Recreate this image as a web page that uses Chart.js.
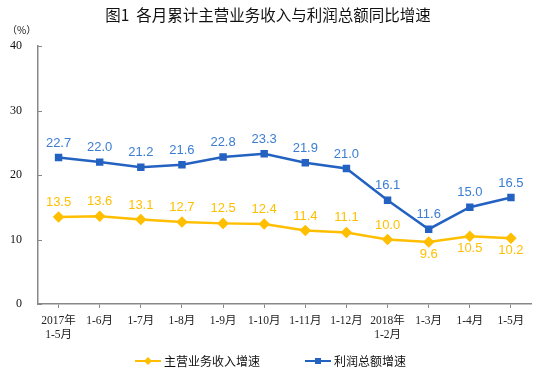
<!DOCTYPE html>
<html>
<head>
<meta charset="utf-8">
<script src="https://cdn.jsdelivr.net/npm/chart.js@4"></script>
<style>
  body { margin: 0; background: #fff; }
  #wrap { width: 538px; height: 380px; }
</style>
</head>
<body>
<div id="wrap"><canvas id="myChart" width="538" height="380"></canvas></div>
<script>
// Chart data
const categories = [
    ['2017年', '1-5月'], '1-6月', '1-7月', '1-8月', '1-9月', '1-10月',
    '1-11月', '1-12月', ['2018年', '1-2月'], '1-3月', '1-4月', '1-5月'
];
const revenueGrowth = [13.5, 13.6, 13.1, 12.7, 12.5, 12.4, 11.4, 11.1, 10.0, 9.6, 10.5, 10.2];
const profitGrowth = [22.7, 22.0, 21.2, 21.6, 22.8, 23.3, 21.9, 21.0, 16.1, 11.6, 15.0, 16.5];
const yTicks = [0, 10, 20, 30, 40];
const seriesNames = ['主营业务收入增速', '利润总额增速'];
const titleText = '图1  各月累计主营业务收入与利润总额同比增速';

const yellow = '#ffbf00';
const blue = '#2462c2';
const blueText = '#3b7dd3';

const cjk = '"Liberation Serif", "Noto Sans CJK SC", serif';

// Draws value labels, title, unit, inner y ticks and the legend
const decorPlugin = {
    id: 'decor',
    afterDatasetsDraw(chart) {
        const ctx = chart.ctx;
        ctx.save();
        ctx.font = '13px "Liberation Sans", Arial, sans-serif';
        ctx.textAlign = 'center';
        chart.data.datasets.forEach((ds, i) => {
            const meta = chart.getDatasetMeta(i);
            meta.data.forEach((pt, j) => {
                const v = ds.data[j];
                let below = (i === 0 && j >= 9);
                ctx.fillStyle = i === 0 ? yellow : blueText;
                ctx.textBaseline = below ? 'top' : 'bottom';
                ctx.fillText(v.toFixed(1), pt.x, below ? pt.y + 6 : pt.y - 8);
            });
        });

        // y tick marks pointing inward
        const y = chart.scales.y;
        ctx.strokeStyle = '#888';
        ctx.lineWidth = 1;
        yTicks.forEach(t => {
            const py = Math.round(y.getPixelForValue(t)) + 0.5;
            ctx.beginPath();
            ctx.moveTo(chart.chartArea.left, py);
            ctx.lineTo(chart.chartArea.left + 4, py);
            ctx.stroke();
        });

        // title and unit
        ctx.fillStyle = '#111';
        ctx.textBaseline = 'middle';
        ctx.font = '15.5px "Noto Sans CJK SC", sans-serif';
        ctx.fillText(titleText, 268, 15);
        ctx.font = '10px "Noto Sans CJK SC", sans-serif';
        ctx.textAlign = 'left';
        ctx.fillText('（%）', 7, 30);

        // legend
        const items = [
            { x: 135, color: yellow, style: 'diamond', name: seriesNames[0] },
            { x: 305, color: blue, style: 'square', name: seriesNames[1] }
        ];
        const ly = 361;
        items.forEach(it => {
            ctx.strokeStyle = it.color;
            ctx.fillStyle = it.color;
            ctx.lineWidth = 2;
            ctx.beginPath();
            ctx.moveTo(it.x, ly);
            ctx.lineTo(it.x + 26, ly);
            ctx.stroke();
            const cx = it.x + 13;
            ctx.beginPath();
            if (it.style === 'diamond') {
                ctx.moveTo(cx, ly - 4); ctx.lineTo(cx + 4, ly);
                ctx.lineTo(cx, ly + 4); ctx.lineTo(cx - 4, ly);
                ctx.closePath();
            } else {
                ctx.rect(cx - 3, ly - 3, 6, 6);
            }
            ctx.fill();
            ctx.fillStyle = '#111';
            ctx.font = '12px "Noto Sans CJK SC", sans-serif';
            ctx.textBaseline = 'middle';
            ctx.fillText(it.name, it.x + 29, ly);
        });
        ctx.restore();
    }
};

const ctx = document.getElementById('myChart').getContext('2d');

new Chart(ctx, {
    type: 'line',
    data: {
        labels: categories,
        datasets: [{
            label: seriesNames[0],
            data: revenueGrowth,
            borderColor: yellow,
            backgroundColor: yellow,
            borderWidth: 2.5,
            pointStyle: 'rectRot',
            pointRadius: 4,
            fill: false,
            tension: 0
        }, {
            label: seriesNames[1],
            data: profitGrowth,
            borderColor: blue,
            backgroundColor: blue,
            borderWidth: 2.5,
            pointStyle: 'rect',
            pointRadius: 3.5,
            fill: false,
            tension: 0
        }]
    },
    options: {
        responsive: false,
        animation: false,
        layout: {
            padding: { top: 46, right: 6, bottom: 34, left: 0 }
        },
        scales: {
            x: {
                offset: true,
                grid: {
                    display: true,
                    drawOnChartArea: false,
                    tickLength: 4,
                    color: '#888'
                },
                border: { color: '#888', width: 1.5 },
                ticks: {
                    color: '#222',
                    font: { size: 11.5, family: cjk },
                    maxRotation: 0,
                    autoSkip: false,
                    padding: 6
                },
                afterFit(scale) { scale.height = 42; }
            },
            y: {
                min: 0,
                max: 40,
                grid: { display: false },
                border: { color: '#888', width: 1.5 },
                ticks: {
                    stepSize: 10,
                    color: '#111',
                    font: { size: 12, family: '"Liberation Serif", serif' },
                    padding: 8
                },
                afterFit(scale) { scale.width = 38; }
            }
        },
        plugins: {
            legend: { display: false },
            tooltip: { enabled: false }
        }
    },
    plugins: [decorPlugin]
});
</script>
</body>
</html>
